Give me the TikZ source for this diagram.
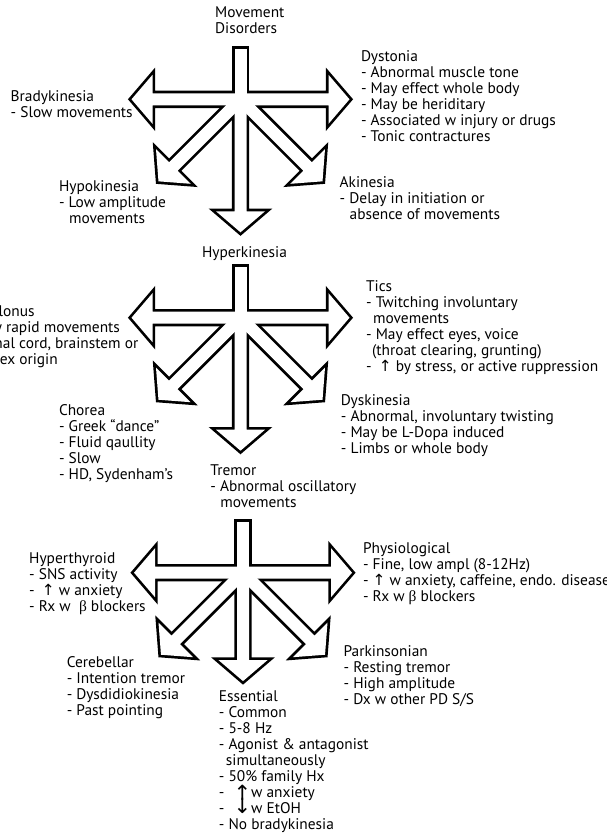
\documentclass[tikz,border=0pt]{standalone}
\usepackage{fontspec}
\setmainfont{PT Sans}
\newfontfamily\arrowfont{DejaVu Sans}
\newfontfamily\greekfont{Liberation Serif}
\newcommand{\incr}{{\arrowfont ↑}}
\newcommand{\decr}{{\arrowfont ↓}}
\newcommand{\bet}{{\greekfont β}}

\tikzset{
	item/.style={anchor=base west, align=left, inner sep=0pt,
		font=\fontsize{15.4}{16}\selectfont},
	outline/.style={draw=black, line width=5.4pt, line join=miter, miter limit=10},
	arrowbody/.style={insert path={(0,-6) -- (#1,-6) -- (#1,-24.5) -- ({#1+21},0)
		-- (#1,24.5) -- (#1,6) -- (0,6) -- cycle}},
	pics/fanout/.style={code={
		\foreach \ang/\len in {180/88,0/88,270/#1,225/95,315/95}
			\draw[outline, rotate=\ang, arrowbody=\len];
		\draw[outline] (-6,0) rectangle (6,-50.7);
		\foreach \ang/\len in {180/88,0/88,270/#1,225/95,315/95}
			\fill[white, rotate=\ang, arrowbody=\len];
		\fill[white] (-6,0) rectangle (6,-50.7);
	}}
}

\begin{document}
\begin{tikzpicture}[x=1pt, y=-1pt]
	\useasboundingbox (0,0) rectangle (607,835);

	\coordinate (c1) at (240.5,99.3);
	\coordinate (c2) at (240.5,317.7);
	\coordinate (c3) at (243,572.7);
	\pic at (c1) {fanout=112};
	\pic at (c2) {fanout=112};
	\pic at (c3) {fanout=87.4};

	% base anchor sits on the last line
	\node[item] (movement) at (214.9,33.8) {Movement\\Disorders};
	\node[item] (dystonia) at (360.8,141.2) {Dystonia\\- Abnormal muscle tone\\- May effect whole body\\- May be heriditary\\- Associated w injury or drugs\\- Tonic contractures};
	\node[item] (brady) at (10.5,117.2) {Bradykinesia\\- Slow movements};
	\node[item] (hypo) at (58.8,223.2) {Hypokinesia\\- Low amplitude\\\hspace*{10pt}movements};
	\node[item] (aki) at (339.5,219.2) {Akinesia\\- Delay in initiation or\\\hspace*{10pt}absence of movements};
	\node[item, anchor=base] (hyper) at (244.5,257.8) {Hyperkinesia};

	\node[item] (tics) at (365.9,371.2) {Tics\\- Twitching involuntary\\\hspace*{7pt}movements\\- May effect eyes, voice\\\hspace*{6pt}(throat clearing, grunting)\\- \hspace{3pt}\incr{} by stress, or active ruppression};
	\node[item] (myo) at (-36,364.2) {Myoclonus\\- Very rapid movements\\- Spinal cord, brainstem or\\\hspace*{10pt}cortex origin};
	\node[item] (chorea) at (58.8,479.2) {Chorea\\- Greek “dance”\\- Fluid qaullity\\- Slow\\- HD, Sydenham’s};
	\node[item] (dysk) at (340.7,453.2) {Dyskinesia\\- Abnormal, involuntary twisting\\- May be L-Dopa induced\\- Limbs or whole body};
	\node[item] (tremor) at (210.2,507.5) {Tremor\\- Abnormal oscillatory\\\hspace*{10pt}movements};

	\node[item] (phys) at (362.8,601.5) {Physiological\\- Fine, low ampl (8-12Hz)\\- \incr{} w anxiety, caffeine, endo. disease\\- Rx w \bet{} blockers};
	\node[item] (thyro) at (29,611.5) {Hyperthyroid\\- SNS activity\\- \hspace{3pt}\incr{} w anxiety\\- Rx w \ \bet{} blockers};
	\node[item] (cereb) at (66.6,715.2) {Cerebellar\\- Intention tremor\\- Dysdidiokinesia\\- Past pointing};
	\node[item] (park) at (343.4,704.2) {Parkinsonian\\- Resting tremor\\- High amplitude\\- Dx w other PD S/S};
	\node[item] (essential) at (218.7,829.2) {Essential\\- Common\\- 5-8 Hz\\- Agonist \& antagonist\\\hspace*{7pt}simultaneously\\- 50\% family Hx\\- \hspace{5pt}\smash{\raisebox{-3pt}{\fontsize{21}{16}\selectfont\incr}}w anxiety\\- \hspace{5pt}\smash{\raisebox{0pt}{\fontsize{21}{16}\selectfont\decr}}w EtOH\\- No bradykinesia};
\end{tikzpicture}
\end{document}
